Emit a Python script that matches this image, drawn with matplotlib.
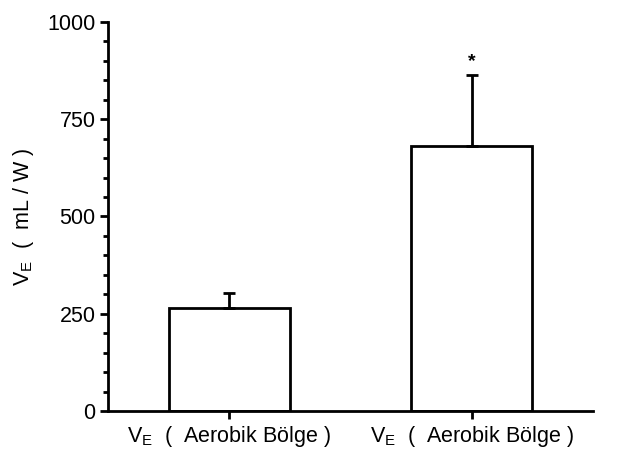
import matplotlib
matplotlib.use("Agg")
import matplotlib.pyplot as plt
from matplotlib.ticker import MultipleLocator

plt.rcParams["font.family"] = ["Liberation Sans", "DejaVu Sans"]
plt.rcParams["mathtext.fontset"] = "custom"
plt.rcParams["mathtext.rm"] = "Liberation Sans"

labels = ["V$_\\mathrm{E}$  (  Aerobik Bölge )", "V$_\\mathrm{E}$  (  Aerobik Bölge )"]
values = [266, 682]
errors = [37, 182]
pos = [1, 2]

fig = plt.figure(figsize=(6.19, 4.58), dpi=100)
ax = fig.add_axes([0.1745, 0.1026, 0.7835, 0.8494])

ax.bar(pos, values, width=0.5, color="white", edgecolor="black", linewidth=2)
ax.errorbar(pos, values, yerr=[[0, 0], errors], fmt="none", ecolor="black",
            elinewidth=2, capsize=4.5, capthick=2)
ax.text(2, values[1] + errors[1] + 33, "*", ha="center", va="center",
        fontsize=14, fontweight="bold")

ax.set_xlim(0.5, 2.5)
ax.set_ylim(0, 1000)
ax.set_xticks(pos)
ax.set_xticklabels(labels, fontsize=15.5)
ax.yaxis.set_major_locator(MultipleLocator(250))
ax.yaxis.set_minor_locator(MultipleLocator(50))
ax.tick_params(axis="y", labelsize=15.5, width=2, length=6, pad=3)
ax.tick_params(axis="y", which="minor", width=2, length=3.5)
ax.tick_params(axis="x", width=2, length=6, pad=3)
for s in ["top", "right"]:
    ax.spines[s].set_visible(False)
for s in ["left", "bottom"]:
    ax.spines[s].set_linewidth(2)
ax.set_ylabel("V$_\\mathrm{E}$  (  mL / W )", fontsize=15.5, labelpad=8)

fig.savefig("out.png", dpi=100)
